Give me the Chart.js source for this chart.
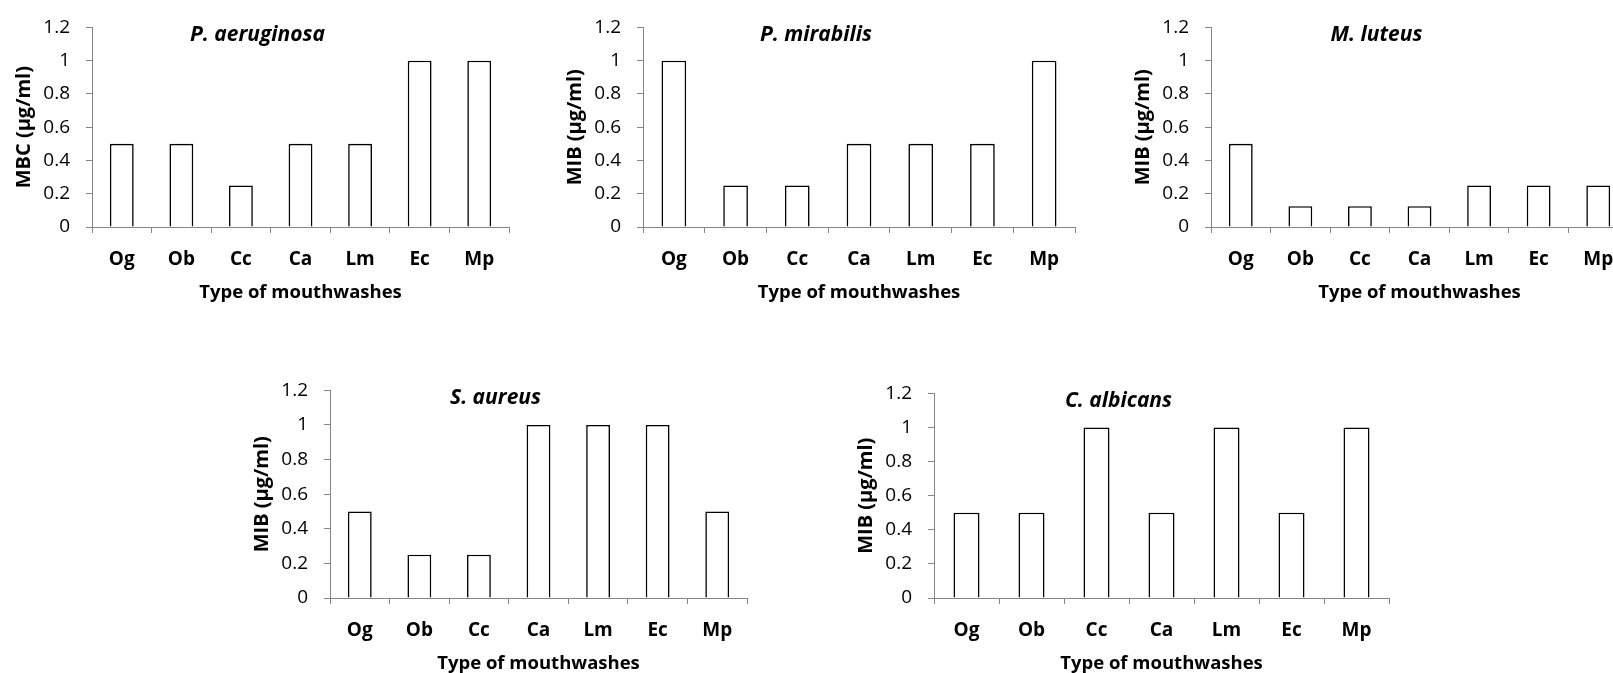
<!DOCTYPE html>
<html>
<head>
<meta charset="utf-8">
<script src="https://cdn.jsdelivr.net/npm/chart.js@4.4.0/dist/chart.umd.min.js"></script>
<style>
  body { margin: 0; width: 1613px; height: 673px; overflow: hidden; background: #fff; position: relative; }
  canvas { position: absolute; }
</style>
</head>
<body>
<canvas id="g1"></canvas>
<canvas id="g2"></canvas>
<canvas id="g3"></canvas>
<canvas id="g4"></canvas>
<canvas id="g5"></canvas>
<script>
// datos
const enjuagues = ['Og', 'Ob', 'Cc', 'Ca', 'Lm', 'Ec', 'Mp'];
const yTicks = [0, 0.2, 0.4, 0.6, 0.8, 1, 1.2];

const pAeruginosa = [0.5, 0.5, 0.25, 0.5, 0.5, 1, 1];
const pMirabilis = [1, 0.25, 0.25, 0.5, 0.5, 0.5, 1];
const mLuteus = [0.5, 0.125, 0.125, 0.125, 0.25, 0.25, 0.25];
const sAureus = [0.5, 0.25, 0.25, 1, 1, 1, 0.5];
const cAlbicans = [0.5, 0.5, 1, 0.5, 1, 0.5, 1];

const titulos = ['P. aeruginosa', 'P. mirabilis', 'M. luteus', 'S. aureus', 'C. albicans'];
const ejesY = ['MBC (µg/ml)', 'MIB (µg/ml)', 'MIB (µg/ml)', 'MIB (µg/ml)', 'MIB (µg/ml)'];
const ejeX = 'Type of mouthwashes';

// area de trazado de cada panel: izquierda, arriba, derecha, abajo
var paneles = [
  [92, 22, 509, 227],
  [643, 22, 1075, 227],
  [1211, 22, 1628, 227],
  [330, 385, 747, 598],
  [934, 388, 1389, 598]
];
var series = [pAeruginosa, pMirabilis, mLuteus, sAureus, cAlbicans];

var FUENTE = '"Open Sans", "DejaVu Sans", sans-serif';
var GRIS = '#868686';
var EJE_Y_ANCHO = 92, PAD_TOP = 22, PAD_RIGHT = 21, EJE_X_ALTO = 93;

// titulo en cursiva dentro del area de trazado
var tituloDentro = {
  id: 'tituloDentro',
  afterDraw: function (chart, args, opts) {
    var ctx = chart.ctx;
    var a = chart.chartArea;
    ctx.save();
    ctx.font = 'italic bold 21px ' + FUENTE;
    ctx.fillStyle = '#000';
    ctx.textAlign = 'center';
    ctx.textBaseline = 'middle';
    ctx.fillText(opts.text, (a.left + a.right) / 2 - 43, a.top + 8);
    ctx.restore();
  }
};

function crearGrafico(i) {
  var p = paneles[i];
  var left = p[0] - EJE_Y_ANCHO;
  var top = p[1] - PAD_TOP;
  var w = p[2] - left + PAD_RIGHT;
  var h = p[3] - top + EJE_X_ALTO;
  var cv = document.getElementById('g' + (i + 1));
  cv.style.left = left + 'px';
  cv.style.top = top + 'px';
  cv.width = w;
  cv.height = h;

  new Chart(cv.getContext('2d'), {
    type: 'bar',
    data: {
      labels: enjuagues,
      datasets: [{
        data: series[i],
        backgroundColor: '#ffffff',
        borderColor: '#000000',
        borderWidth: 1.6,
        categoryPercentage: 1,
        barPercentage: 0.4
      }]
    },
    options: {
      responsive: false,
      animation: false,
      layout: { padding: { top: PAD_TOP, right: PAD_RIGHT, left: 0, bottom: 0 } },
      plugins: {
        legend: { display: false },
        tooltip: { enabled: false },
        tituloDentro: { text: titulos[i] }
      },
      scales: {
        x: {
          afterFit: function (s) { s.height = EJE_X_ALTO; },
          grid: { drawOnChartArea: false, color: GRIS, tickLength: 6 },
          border: { color: GRIS, width: 1 },
          ticks: {
            color: '#000', padding: 15, autoSkip: false, maxRotation: 0,
            font: { family: FUENTE, size: 19, weight: 'bold' }
          },
          title: {
            display: true, text: ejeX, color: '#000',
            padding: { top: 0, bottom: 16 },
            font: { family: FUENTE, size: 18.5, weight: 'bold' }
          }
        },
        y: {
          min: 0,
          max: 1.2,
          afterFit: function (s) { s.width = EJE_Y_ANCHO; },
          afterBuildTicks: function (s) { s.ticks = yTicks.map(function (v) { return { value: v }; }); },
          grid: { drawOnChartArea: false, color: GRIS, tickLength: 6 },
          border: { color: GRIS, width: 1 },
          ticks: {
            color: '#000', padding: 16,
            font: { family: FUENTE, size: 19 },
            callback: function (v) { return String(+Number(v).toFixed(2)); }
          },
          title: {
            display: true, text: ejesY[i], color: '#000',
            padding: { top: 12, bottom: 0 },
            font: { family: FUENTE, size: 20, weight: 'bold' }
          }
        }
      }
    },
    plugins: [tituloDentro]
  });
}

for (var i = 0; i < paneles.length; i++) {
  crearGrafico(i);
}
</script>
</body>
</html>
